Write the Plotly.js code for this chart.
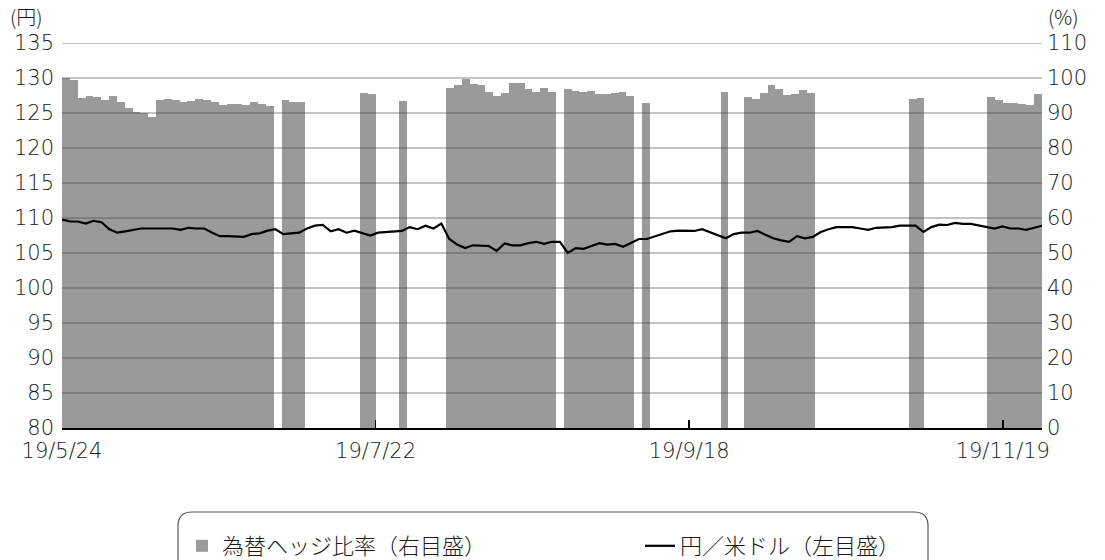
<!DOCTYPE html>
<html>
<head>
<meta charset="utf-8">
<script src="https://cdn.plot.ly/plotly-3.0.1.min.js"></script>
<style>
  html, body { margin: 0; padding: 0; background: #fff; }
  #chart { width: 1105px; height: 560px; }
</style>
</head>
<body>
<div id="chart"></div>
<script>
// Business days (category axis)
const dates = [
  '19/5/24','19/5/27','19/5/28','19/5/29','19/5/30','19/5/31',
  '19/6/3','19/6/4','19/6/5','19/6/6','19/6/7','19/6/10','19/6/11','19/6/12','19/6/13','19/6/14',
  '19/6/17','19/6/18','19/6/19','19/6/20','19/6/21','19/6/24','19/6/25','19/6/26','19/6/27','19/6/28',
  '19/7/1','19/7/2','19/7/3','19/7/4','19/7/5','19/7/8','19/7/9','19/7/10','19/7/11','19/7/12',
  '19/7/16','19/7/17','19/7/18','19/7/19','19/7/22','19/7/23','19/7/24','19/7/25','19/7/26',
  '19/7/29','19/7/30','19/7/31',
  '19/8/1','19/8/2','19/8/5','19/8/6','19/8/7','19/8/8','19/8/9','19/8/13','19/8/14','19/8/15','19/8/16',
  '19/8/19','19/8/20','19/8/21','19/8/22','19/8/23','19/8/26','19/8/27','19/8/28','19/8/29','19/8/30',
  '19/9/2','19/9/3','19/9/4','19/9/5','19/9/6','19/9/9','19/9/10','19/9/11','19/9/12','19/9/13',
  '19/9/17','19/9/18','19/9/19','19/9/20','19/9/24','19/9/25','19/9/26','19/9/27','19/9/30',
  '19/10/1','19/10/2','19/10/3','19/10/4','19/10/7','19/10/8','19/10/9','19/10/10','19/10/11',
  '19/10/15','19/10/16','19/10/17','19/10/18','19/10/21','19/10/23','19/10/24','19/10/25',
  '19/10/28','19/10/29','19/10/30','19/10/31',
  '19/11/1','19/11/5','19/11/6','19/11/7','19/11/8','19/11/11','19/11/12','19/11/13','19/11/14','19/11/15',
  '19/11/18','19/11/19','19/11/20','19/11/21','19/11/22','19/11/25'
];

// 為替ヘッジ比率 (%), right axis; null = no data
const hedgeRatio = [
  100.0, 99.3, 94.4, 95.0, 94.6, 93.6, 95.0, 93.2, 91.5, 90.4,
  90.0, 88.8, 93.7, 93.9, 93.6, 93.2, 93.5, 93.9, 93.6, 93.2,
  92.2, 92.7, 92.6, 92.3, 93.2, 92.7, 92.0, null, 93.6, 93.2,
  93.2, null, null, null, null, null, null, null, 95.8, 95.5,
  null, null, null, 93.4, null, null, null, null, null, 97.1,
  97.9, 99.8, 98.2, 97.9, 96.0, 95.0, 95.8, 98.5, 98.7, 97.0,
  96.1, 97.1, 95.9, null, 96.8, 96.2, 96.1, 96.3, 95.5, 95.5,
  95.6, 95.9, 94.9, null, 92.9, null, null, null, null, null,
  null, null, null, null, 95.9, null, null, 94.6, 94.0, 95.7,
  98.0, 96.9, 95.2, 95.4, 96.7, 95.6, null, null, null, null,
  null, null, null, null, null, null, null, null, 93.9, 94.2,
  null, null, null, null, null, null, null, null, 94.7, 93.8,
  92.9, 93.0, 92.6, 92.4, 95.4
];

// 円／米ドル (円), left axis
const usdJpy = [
  109.76, 109.53, 109.5, 109.2, 109.6, 109.4, 108.4, 107.9, 108.1, 108.3,
  108.5, 108.5, 108.5, 108.5, 108.5, 108.3, 108.6, 108.5, 108.5, 107.9,
  107.4, 107.4, 107.3, 107.3, 107.7, 107.8, 108.2, 108.4, 107.7, 107.8,
  107.9, 108.5, 108.9, 109.0, 108.1, 108.4, 107.9, 108.2, 107.8, 107.5,
  107.9, 108.0, 108.15, 108.15, 108.7, 108.4, 108.9, 108.5, 109.2, 107.0,
  106.2, 105.7, 106.1, 106.0, 106.0, 105.3, 106.35, 106.1, 106.1, 106.4,
  106.6, 106.3, 106.6, 106.6, 105.0, 105.7, 105.6, 106.0, 106.4, 106.2,
  106.3, 105.9, 106.5, 107.0, 107.0, 107.4, 107.7, 108.1, 108.2, 108.15,
  108.15, 108.4, 108.0, 107.6, 107.1, 107.7, 107.9, 107.9, 108.15, 107.6,
  107.1, 106.8, 106.6, 107.4, 107.1, 107.3, 108.0, 108.4, 108.7, 108.7,
  108.7, 108.5, 108.3, 108.6, 108.6, 108.7, 108.9, 108.9, 108.9, 108.0,
  108.7, 109.05, 109.0, 109.3, 109.15, 109.15, 108.9, 108.7, 108.5, 108.8,
  108.5, 108.5, 108.3, 108.6, 108.9
];

const tickLabels = ['19/5/24', '19/7/22', '19/9/18', '19/11/19'];
const seriesNames = ['為替ヘッジ比率（右目盛）', '円／米ドル（左目盛）'];
const yenUnit = '(円)';
const pctUnit = '(%)';

const idx = dates.map((d, i) => i);
const n = dates.length;
const JP = '"Noto Sans CJK JP", "Noto Sans", sans-serif';
const NUM = '"DejaVu Sans", "Noto Sans CJK JP", sans-serif';
const TXT = '#1a1a1a';
const numFont = { family: NUM, size: 21, color: TXT, weight: 200 };
const jpFont = { family: JP, size: 22, color: TXT, weight: 300 };

const barTrace = {
  type: 'bar',
  name: seriesNames[0],
  legend: 'legend',
  x: idx,
  y: hedgeRatio,
  text: dates,
  hoverinfo: 'text+y',
  textposition: 'none',
  width: 1,
  offset: 0,
  xaxis: 'x',
  yaxis: 'y',
  marker: { color: '#9a9a9a', line: { width: 0 } }
};

const lineTrace = {
  type: 'scatter',
  mode: 'lines',
  name: seriesNames[1],
  legend: 'legend2',
  x: idx,
  y: usdJpy,
  text: dates,
  xaxis: 'x2',
  yaxis: 'y2',
  line: { color: '#000000', width: 2.2 }
};

// horizontal gridlines drawn above the bars (as in the original)
const shapes = [];
for (let v = 85; v <= 135; v += 5) {
  shapes.push({
    type: 'line', xref: 'paper', x0: 0, x1: 1, yref: 'y2', y0: v, y1: v,
    line: { color: 'rgba(70,70,70,0.42)', width: 1.3 }, layer: 'above'
  });
}

// rounded legend frame (pixel sizes converted to paper units)
const plotW = 980, plotH = 385;
const bx0 = (178 - 62) / plotW, bx1 = (928 - 62) / plotW;
const by0 = (428 - 512) / plotH, by1 = (428 - 600) / plotH;
const rx = 14 / plotW, ry = 14 / plotH;
shapes.push({
  type: 'path', xref: 'paper', yref: 'paper', layer: 'above',
  path: `M ${bx0} ${by1} L ${bx0} ${by0 - ry} Q ${bx0} ${by0} ${bx0 + rx} ${by0} ` +
        `L ${bx1 - rx} ${by0} Q ${bx1} ${by0} ${bx1} ${by0 - ry} L ${bx1} ${by1}`,
  line: { color: '#555555', width: 1.2 }
});

const legendBase = {
  orientation: 'h',
  xanchor: 'left',
  y: (428 - 546) / plotH,
  yanchor: 'middle',
  bgcolor: 'rgba(0,0,0,0)',
  borderwidth: 0,
  font: jpFont,
  itemwidth: 30
};

const layout = {
  width: 1105,
  height: 560,
  margin: { l: 62, r: 63, t: 43, b: 132, pad: 0, autoexpand: false },
  paper_bgcolor: '#ffffff',
  plot_bgcolor: '#ffffff',
  font: jpFont,
  showlegend: true,
  bargap: 0,
  xaxis: {
    range: [0, n],
    tickvals: tickLabels.map(t => dates.indexOf(t)),
    ticktext: tickLabels,
    showgrid: false,
    zeroline: false,
    showline: true,
    linecolor: '#000000',
    linewidth: 2,
    ticks: 'inside',
    ticklen: 8,
    tickwidth: 1.6,
    tickcolor: '#000000',
    ticklabelstandoff: 3,
    tickfont: numFont,
    fixedrange: true
  },
  xaxis2: {
    overlaying: 'x',
    range: [0, n - 1],
    visible: false,
    fixedrange: true
  },
  yaxis: {
    side: 'right',
    range: [0, 110],
    dtick: 10,
    tick0: 0,
    showgrid: false,
    zeroline: false,
    showline: false,
    ticks: '',
    ticklabelstandoff: 4,
    tickfont: numFont,
    fixedrange: true
  },
  yaxis2: {
    overlaying: 'y',
    side: 'left',
    range: [80, 135],
    dtick: 5,
    tick0: 80,
    showgrid: false,
    zeroline: false,
    showline: false,
    ticks: '',
    ticklabelstandoff: 7,
    tickfont: numFont,
    fixedrange: true
  },
  legend: Object.assign({}, legendBase, { x: (182 - 62) / plotW }),
  legend2: Object.assign({}, legendBase, { x: (640 - 62) / plotW }),
  annotations: [
    { text: yenUnit, xref: 'paper', yref: 'paper', x: (26 - 62) / plotW, y: (428 - 17) / plotH,
      xanchor: 'center', yanchor: 'middle', showarrow: false,
      font: { family: JP, size: 20, color: TXT, weight: 300 } },
    { text: pctUnit, xref: 'paper', yref: 'paper', x: (1063 - 62) / plotW, y: (428 - 17) / plotH,
      xanchor: 'center', yanchor: 'middle', showarrow: false,
      font: { family: JP, size: 20, color: TXT, weight: 300 } }
  ],
  shapes: shapes
};

Plotly.newPlot('chart', [barTrace, lineTrace], layout, { displayModeBar: false, staticPlot: true });
</script>
</body>
</html>
